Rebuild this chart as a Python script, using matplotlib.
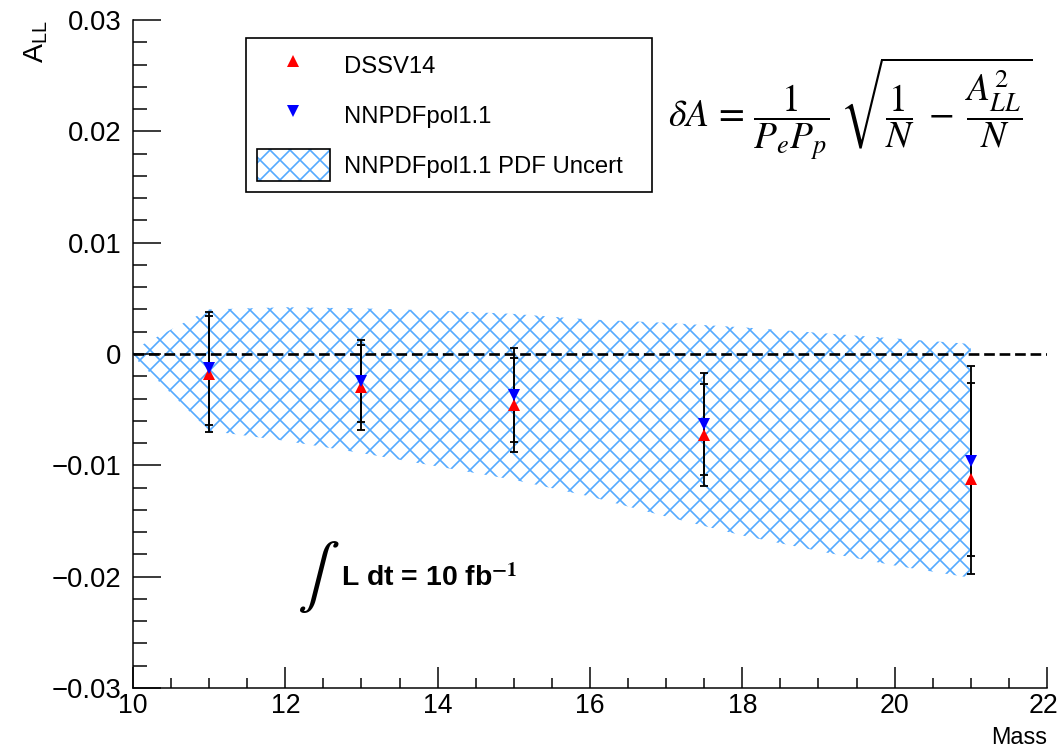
import matplotlib
matplotlib.use("Agg")
import matplotlib.pyplot as plt
from matplotlib.lines import Line2D
from matplotlib.patches import Patch
from matplotlib.legend_handler import HandlerTuple
from matplotlib.ticker import MultipleLocator, FuncFormatter
from matplotlib.transforms import ScaledTranslation

plt.rcParams['font.family'] = ['Liberation Sans', 'DejaVu Sans']
plt.rcParams['hatch.linewidth'] = 1.0
plt.rcParams['mathtext.fontset'] = 'stix'

# points
mass = [11, 13, 15, 17.5, 21]
dssv = [-0.0018, -0.0030, -0.0046, -0.0073, -0.0112]
dssv_err = [0.0052, 0.0038, 0.0042, 0.0046, 0.0086]
nnpdf = [-0.0013, -0.0024, -0.0037, -0.0063, -0.0096]
nnpdf_err = [0.0051, 0.0037, 0.0042, 0.0046, 0.0085]

# pdf uncertainty band
band_mass = [10, 11, 12, 13, 14, 15, 16, 17, 18, 19, 20, 21]
band_hi = [0.0004, 0.0040, 0.0042, 0.0041, 0.0039, 0.0036, 0.0031, 0.0028, 0.0024, 0.0019, 0.0014, 0.0009]
band_lo = [-0.0002, -0.0069, -0.0078, -0.0089, -0.0101, -0.0113, -0.0128, -0.0146, -0.0163, -0.0177, -0.0190, -0.0201]

hatch_col = '#55aaff'

fig = plt.figure(figsize=(1060 / 120, 749 / 120), dpi=120)
ax = fig.add_axes([133 / 1060, 1 - 688 / 749, 914 / 1060, 668 / 749])

ax.fill_between(band_mass, band_lo, band_hi, facecolor='none', edgecolor=hatch_col,
                linewidth=0, hatch='xx', zorder=1)
ax.axhline(0, color='black', ls=(0, (4, 1.8)), lw=1.6, zorder=2)

ax.errorbar(mass, dssv, yerr=dssv_err, fmt='none', ecolor='black', elinewidth=1.1,
            capsize=2.3, capthick=1.1, zorder=3)
ax.errorbar(mass, nnpdf, yerr=nnpdf_err, fmt='none', ecolor='black', elinewidth=1.1,
            capsize=2.3, capthick=1.1, zorder=3)
ax.plot(mass, dssv, ls='none', marker='^', color='red', ms=7, mew=0, zorder=4)
ax.plot(mass, nnpdf, ls='none', marker='v', color='blue', ms=7, mew=0, zorder=5)

ax.set_xlim(10, 22)
ax.set_ylim(-0.03, 0.03)
ax.set_xticks(range(10, 23, 2))
ax.xaxis.set_minor_locator(MultipleLocator(0.5))
ax.yaxis.set_major_locator(MultipleLocator(0.01))
ax.yaxis.set_minor_locator(MultipleLocator(0.002))


def yfmt(v, pos):
    if abs(v) < 1e-9:
        return '0'
    return ('%.2f' % v).replace('-', '\u2212')


ax.yaxis.set_major_formatter(FuncFormatter(yfmt))
ax.tick_params(axis='both', which='both', direction='in', width=0.9)
ax.tick_params(axis='y', labelsize=16.5)
ax.tick_params(axis='x', labelsize=16)
ax.tick_params(axis='x', which='major', length=12.5, pad=3)
ax.tick_params(axis='x', which='minor', length=6.2)
ax.tick_params(axis='y', which='major', length=16.5, pad=7)
ax.tick_params(axis='y', which='minor', length=8.2)
for s in ['top', 'right']:
    ax.spines[s].set_visible(False)
for s in ['left', 'bottom']:
    ax.spines[s].set_linewidth(0.9)

# keep the last x label inside the canvas
last = ax.xaxis.get_major_ticks()[-1].label1
last.set_transform(last.get_transform() + ScaledTranslation(-4 / 120, 0, fig.dpi_scale_trans))

ax.set_xlabel('Mass', loc='right', fontsize=14, labelpad=4)
ax.set_ylabel(r'$\mathregular{A_{LL}}$', loc='top', fontsize=17, labelpad=1)

handles = [
    Line2D([], [], ls='none', marker='^', color='red', ms=7, mew=0),
    Line2D([], [], ls='none', marker='v', color='blue', ms=7, mew=0),
    (Patch(facecolor='white', edgecolor=hatch_col, linewidth=0, hatch='xx'),
     Patch(facecolor='none', edgecolor='black', linewidth=1.0)),
]
labels = ['DSSV14', 'NNPDFpol1.1', 'NNPDFpol1.1 PDF Uncert']
leg = ax.legend(handles, labels, loc='upper left',
                bbox_to_anchor=(0.1236, 0.7485, 0.4444, 0.2245), mode='expand',
                fontsize=14.3, frameon=True, fancybox=False, framealpha=1,
                edgecolor='black', handlelength=3.06, handleheight=1.75,
                handletextpad=0.59, labelspacing=0.71, borderpad=0.45,
                borderaxespad=0, handler_map={tuple: HandlerTuple(ndivide=1)})
leg.get_frame().set_linewidth(1.0)

ax.text(0.785, 0.868,
        r'$\delta A\,=\,\dfrac{1}{P_e P_p}\;\sqrt{\dfrac{1}{N}\;-\;\dfrac{A_{LL}^{2}}{N}}$',
        transform=ax.transAxes, fontsize=22.5, ha='center', va='center')

ax.text(0.2025, 0.166, r'$\int$', transform=ax.transAxes, fontsize=38,
        ha='center', va='center')
ax.text(0.228, 0.165, r'L dt = 10 fb$^{\mathbf{-1}}$', transform=ax.transAxes,
        fontsize=17, fontweight='bold', ha='left', va='center')

fig.savefig('out.png', dpi=120)
